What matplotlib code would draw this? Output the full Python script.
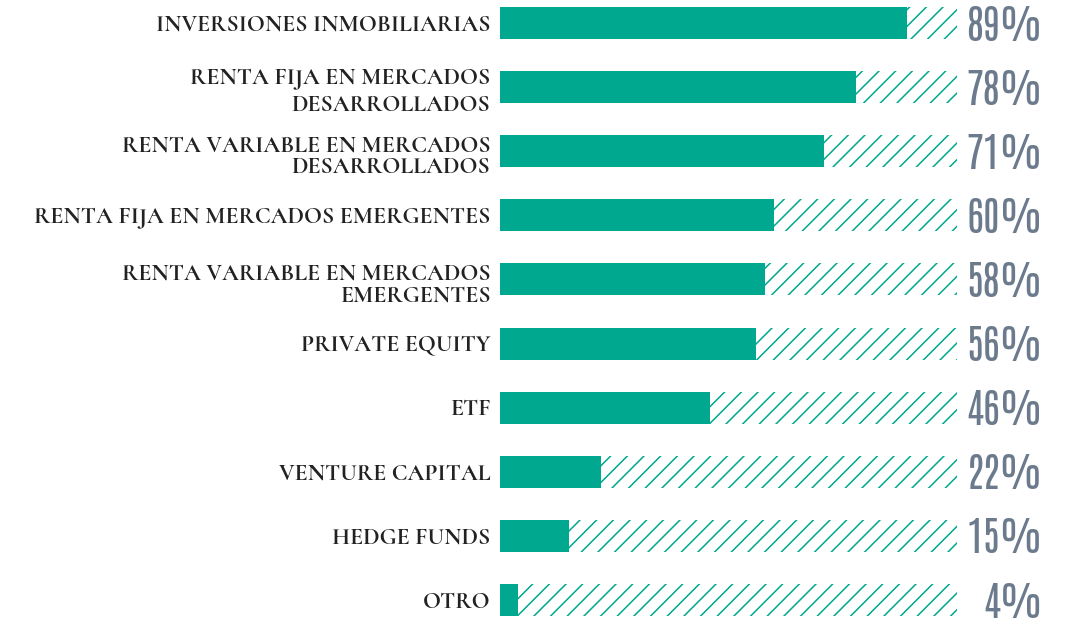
import matplotlib
matplotlib.use('Agg')
import matplotlib.pyplot as plt

# data
categories = ['INVERSIONES INMOBILIARIAS',
              'RENTA FIJA EN MERCADOS\nDESARROLLADOS',
              'RENTA VARIABLE EN MERCADOS\nDESARROLLADOS',
              'RENTA FIJA EN MERCADOS EMERGENTES',
              'RENTA VARIABLE EN MERCADOS\nEMERGENTES',
              'PRIVATE EQUITY',
              'ETF',
              'VENTURE CAPITAL',
              'HEDGE FUNDS',
              'OTRO']
values = [89, 78, 71, 60, 58, 56, 46, 22, 15, 4]

teal = '#00A88F'
grey = '#6B7A8C'

plt.rcParams['hatch.linewidth'] = 1.1

fig = plt.figure(figsize=(10.65, 6.24), dpi=100)
ax = fig.add_axes([0.4695, 0.0, 0.429, 1.0])

pos = list(range(len(values)))
# hatched background (full scale) and solid bars on top
ax.barh(pos, [100] * len(values), height=0.5, color='none',
        edgecolor=teal, linewidth=0, hatch='//')
ax.barh(pos, values, height=0.5, color=teal, linewidth=0)

for y, v in zip(pos, values):
    ax.text(118.8, y + 0.04, f'{v}%', ha='right', va='center', fontsize=29,
            color=grey, family=['Antonio', 'Oswald', 'DejaVu Sans'],
            clip_on=False)

ax.set_xlim(0, 100)
ax.set_ylim(9.374, -0.359)
ax.set_yticks(pos)
ax.set_yticklabels(categories, fontsize=17, fontweight='bold',
                   family=['Cormorant SC', 'Liberation Serif'], color='#222222',
                   linespacing=1.4, multialignment='right')
ax.tick_params(axis='y', length=0, pad=7)
ax.set_xticks([])
for s in ax.spines.values():
    s.set_visible(False)

fig.savefig('out.png', dpi=100)
